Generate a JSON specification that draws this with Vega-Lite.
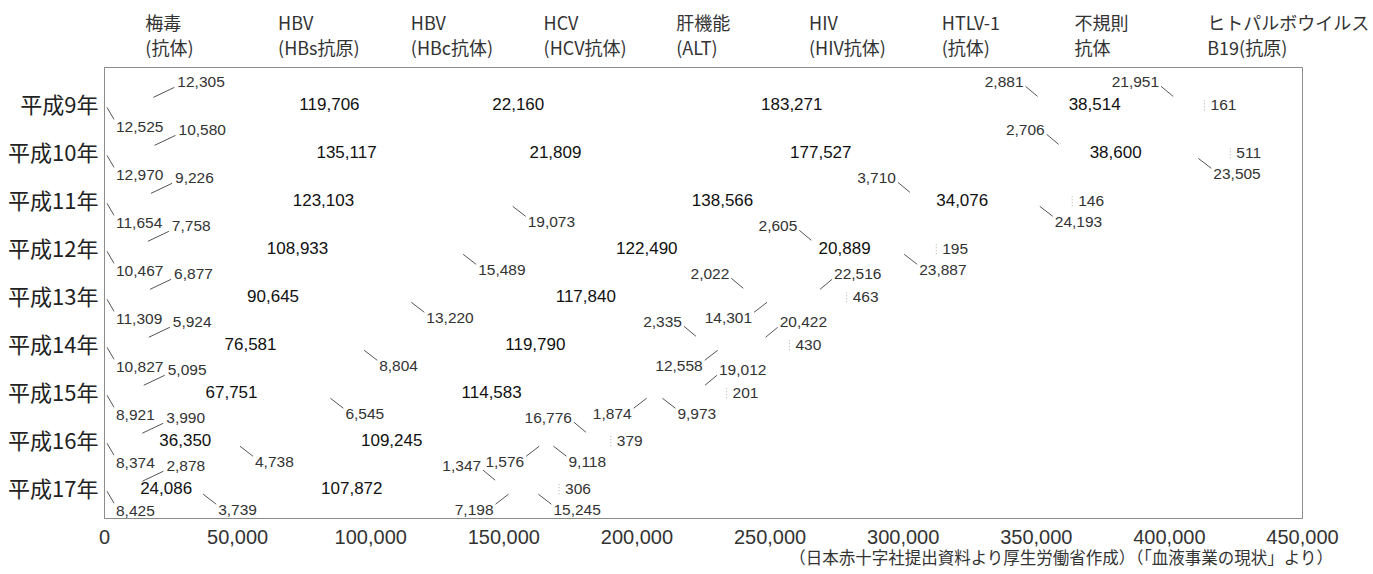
{
  "$schema": "https://vega.github.io/schema/vega-lite/v6.json",
  "autosize": "none",
  "width": 1198,
  "height": 451,
  "padding": {"left": 104, "top": 67, "right": 71, "bottom": 56},
  "background": "white",
  "config": {"view": {"stroke": "#8c8c8c", "strokeWidth": 1}, "font": "Noto Sans CJK JP"},
  "title": {"text": "（日本赤十字社提出資料より厚生労働省作成）（「血液事業の現状」より）", "orient": "bottom", "anchor": "end", "frame": "group", "dx": 31, "offset": 4, "font": "Noto Sans CJK JP", "fontSize": 16.5, "fontWeight": "normal", "color": "#333"},
  "data": {"values": [
    {"year": 9, "cat": "梅毒\n(抗体)", "value": 12525, "pos": "BS"},
    {"year": 9, "cat": "HBV\n(HBs抗原)", "value": 12305, "pos": "AS"},
    {"year": 9, "cat": "HBV\n(HBc抗体)", "value": 119706, "pos": "C"},
    {"year": 9, "cat": "HCV\n(HCV抗体)", "value": 22160, "pos": "C"},
    {"year": 9, "cat": "肝機能\n(ALT)", "value": 183271, "pos": "C"},
    {"year": 9, "cat": "HIV\n(HIV抗体)", "value": 2881, "pos": "AL"},
    {"year": 9, "cat": "HTLV-1\n(抗体)", "value": 38514, "pos": "C"},
    {"year": 9, "cat": "不規則\n抗体", "value": 21951, "pos": "AL"},
    {"year": 9, "cat": "ヒトパルボウイルス\nB19(抗原)", "value": 161, "pos": "R"},
    {"year": 10, "cat": "梅毒\n(抗体)", "value": 12970, "pos": "BS"},
    {"year": 10, "cat": "HBV\n(HBs抗原)", "value": 10580, "pos": "AS"},
    {"year": 10, "cat": "HBV\n(HBc抗体)", "value": 135117, "pos": "C"},
    {"year": 10, "cat": "HCV\n(HCV抗体)", "value": 21809, "pos": "C"},
    {"year": 10, "cat": "肝機能\n(ALT)", "value": 177527, "pos": "C"},
    {"year": 10, "cat": "HIV\n(HIV抗体)", "value": 2706, "pos": "AL"},
    {"year": 10, "cat": "HTLV-1\n(抗体)", "value": 38600, "pos": "C"},
    {"year": 10, "cat": "不規則\n抗体", "value": 23505, "pos": "BR"},
    {"year": 10, "cat": "ヒトパルボウイルス\nB19(抗原)", "value": 511, "pos": "R"},
    {"year": 11, "cat": "梅毒\n(抗体)", "value": 11654, "pos": "BS"},
    {"year": 11, "cat": "HBV\n(HBs抗原)", "value": 9226, "pos": "AS"},
    {"year": 11, "cat": "HBV\n(HBc抗体)", "value": 123103, "pos": "C"},
    {"year": 11, "cat": "HCV\n(HCV抗体)", "value": 19073, "pos": "BR"},
    {"year": 11, "cat": "肝機能\n(ALT)", "value": 138566, "pos": "C"},
    {"year": 11, "cat": "HIV\n(HIV抗体)", "value": 3710, "pos": "AL"},
    {"year": 11, "cat": "HTLV-1\n(抗体)", "value": 34076, "pos": "C"},
    {"year": 11, "cat": "不規則\n抗体", "value": 24193, "pos": "BR"},
    {"year": 11, "cat": "ヒトパルボウイルス\nB19(抗原)", "value": 146, "pos": "R"},
    {"year": 12, "cat": "梅毒\n(抗体)", "value": 10467, "pos": "BS"},
    {"year": 12, "cat": "HBV\n(HBs抗原)", "value": 7758, "pos": "AS"},
    {"year": 12, "cat": "HBV\n(HBc抗体)", "value": 108933, "pos": "C"},
    {"year": 12, "cat": "HCV\n(HCV抗体)", "value": 15489, "pos": "BR"},
    {"year": 12, "cat": "肝機能\n(ALT)", "value": 122490, "pos": "C"},
    {"year": 12, "cat": "HIV\n(HIV抗体)", "value": 2605, "pos": "AL"},
    {"year": 12, "cat": "HTLV-1\n(抗体)", "value": 20889, "pos": "C"},
    {"year": 12, "cat": "不規則\n抗体", "value": 23887, "pos": "BR"},
    {"year": 12, "cat": "ヒトパルボウイルス\nB19(抗原)", "value": 195, "pos": "R"},
    {"year": 13, "cat": "梅毒\n(抗体)", "value": 11309, "pos": "BS"},
    {"year": 13, "cat": "HBV\n(HBs抗原)", "value": 6877, "pos": "AS"},
    {"year": 13, "cat": "HBV\n(HBc抗体)", "value": 90645, "pos": "C"},
    {"year": 13, "cat": "HCV\n(HCV抗体)", "value": 13220, "pos": "BR"},
    {"year": 13, "cat": "肝機能\n(ALT)", "value": 117840, "pos": "C"},
    {"year": 13, "cat": "HIV\n(HIV抗体)", "value": 2022, "pos": "AL"},
    {"year": 13, "cat": "HTLV-1\n(抗体)", "value": 14301, "pos": "BL"},
    {"year": 13, "cat": "不規則\n抗体", "value": 22516, "pos": "AR"},
    {"year": 13, "cat": "ヒトパルボウイルス\nB19(抗原)", "value": 463, "pos": "R"},
    {"year": 14, "cat": "梅毒\n(抗体)", "value": 10827, "pos": "BS"},
    {"year": 14, "cat": "HBV\n(HBs抗原)", "value": 5924, "pos": "AS"},
    {"year": 14, "cat": "HBV\n(HBc抗体)", "value": 76581, "pos": "C"},
    {"year": 14, "cat": "HCV\n(HCV抗体)", "value": 8804, "pos": "BR"},
    {"year": 14, "cat": "肝機能\n(ALT)", "value": 119790, "pos": "C"},
    {"year": 14, "cat": "HIV\n(HIV抗体)", "value": 2335, "pos": "AL"},
    {"year": 14, "cat": "HTLV-1\n(抗体)", "value": 12558, "pos": "BL"},
    {"year": 14, "cat": "不規則\n抗体", "value": 20422, "pos": "AR"},
    {"year": 14, "cat": "ヒトパルボウイルス\nB19(抗原)", "value": 430, "pos": "R"},
    {"year": 15, "cat": "梅毒\n(抗体)", "value": 8921, "pos": "BS"},
    {"year": 15, "cat": "HBV\n(HBs抗原)", "value": 5095, "pos": "AS"},
    {"year": 15, "cat": "HBV\n(HBc抗体)", "value": 67751, "pos": "C"},
    {"year": 15, "cat": "HCV\n(HCV抗体)", "value": 6545, "pos": "BR"},
    {"year": 15, "cat": "肝機能\n(ALT)", "value": 114583, "pos": "C"},
    {"year": 15, "cat": "HIV\n(HIV抗体)", "value": 1874, "pos": "BL"},
    {"year": 15, "cat": "HTLV-1\n(抗体)", "value": 9973, "pos": "BR"},
    {"year": 15, "cat": "不規則\n抗体", "value": 19012, "pos": "AR"},
    {"year": 15, "cat": "ヒトパルボウイルス\nB19(抗原)", "value": 201, "pos": "R"},
    {"year": 16, "cat": "梅毒\n(抗体)", "value": 8374, "pos": "BS"},
    {"year": 16, "cat": "HBV\n(HBs抗原)", "value": 3990, "pos": "AS"},
    {"year": 16, "cat": "HBV\n(HBc抗体)", "value": 36350, "pos": "C"},
    {"year": 16, "cat": "HCV\n(HCV抗体)", "value": 4738, "pos": "BR"},
    {"year": 16, "cat": "肝機能\n(ALT)", "value": 109245, "pos": "C"},
    {"year": 16, "cat": "HIV\n(HIV抗体)", "value": 1576, "pos": "BL"},
    {"year": 16, "cat": "HTLV-1\n(抗体)", "value": 9118, "pos": "BR"},
    {"year": 16, "cat": "不規則\n抗体", "value": 16776, "pos": "AL"},
    {"year": 16, "cat": "ヒトパルボウイルス\nB19(抗原)", "value": 379, "pos": "R"},
    {"year": 17, "cat": "梅毒\n(抗体)", "value": 8425, "pos": "BS"},
    {"year": 17, "cat": "HBV\n(HBs抗原)", "value": 2878, "pos": "AS"},
    {"year": 17, "cat": "HBV\n(HBc抗体)", "value": 24086, "pos": "C"},
    {"year": 17, "cat": "HCV\n(HCV抗体)", "value": 3739, "pos": "BR"},
    {"year": 17, "cat": "肝機能\n(ALT)", "value": 107872, "pos": "C"},
    {"year": 17, "cat": "HIV\n(HIV抗体)", "value": 1347, "pos": "AL"},
    {"year": 17, "cat": "HTLV-1\n(抗体)", "value": 7198, "pos": "BL"},
    {"year": 17, "cat": "不規則\n抗体", "value": 15245, "pos": "BR"},
    {"year": 17, "cat": "ヒトパルボウイルス\nB19(抗原)", "value": 306, "pos": "R"}
  ]},
  "transform": [
    {"stack": "value", "groupby": ["year"], "as": ["v0", "v1"]},
    {"calculate": "(datum.v0 + datum.v1) / 2", "as": "mid"}
  ],
  "resolve": {"scale": {"x": "independent"}, "axis": {"x": "independent"}},
  "layer": [
    {
      "encoding": {
        "x": {"field": "mid", "type": "quantitative", "title": null,
          "scale": {"domain": [0, 450000], "nice": false, "zero": true},
          "axis": {"orient": "bottom", "values": [0, 50000, 100000, 150000, 200000, 250000, 300000, 350000, 400000, 450000], "format": ",d", "grid": false, "ticks": false, "labelFlush": false, "labelFont": "Liberation Sans", "labelFontSize": 20, "labelColor": "#333", "labelPadding": 9, "domainColor": "#8c8c8c", "title": null}},
        "y": {"field": "year", "type": "quantitative", "title": null,
          "scale": {"domain": [8.2, 17.6], "reverse": true, "nice": false, "zero": false},
          "axis": {"values": [9, 10, 11, 12, 13, 14, 15, 16, 17], "labelExpr": "'平成' + datum.value + '年'", "grid": false, "ticks": false, "labelFont": "Noto Sans CJK JP", "labelFontSize": 22, "labelColor": "#222", "labelPadding": 6, "domainColor": "#8c8c8c", "title": null}}
      },
      "layer": [
        {"transform": [{"filter": "datum.pos === 'C'"}],
         "mark": {"type": "text", "align": "center", "baseline": "middle", "font": "Liberation Sans", "fontSize": 17, "fill": "#111"},
         "encoding": {"text": {"field": "value", "type": "quantitative", "format": ","}}},
        {"transform": [{"filter": "datum.pos === 'AR'"}],
         "mark": {"type": "text", "align": "left", "baseline": "middle", "dx": 18, "dy": -23, "font": "Liberation Sans", "fontSize": 15.5, "fill": "#333"},
         "encoding": {"text": {"field": "value", "type": "quantitative", "format": ","}}},
        {"transform": [{"filter": "datum.pos === 'AS'"}],
         "mark": {"type": "text", "align": "left", "baseline": "middle", "dx": 40, "dy": -23, "font": "Liberation Sans", "fontSize": 15.5, "fill": "#333"},
         "encoding": {"x": {"field": "v0", "type": "quantitative"}, "text": {"field": "value", "type": "quantitative", "format": ","}}},
        {"transform": [{"filter": "datum.pos === 'AL'"}],
         "mark": {"type": "text", "align": "right", "baseline": "middle", "dx": -16, "dy": -23, "font": "Liberation Sans", "fontSize": 15.5, "fill": "#333"},
         "encoding": {"text": {"field": "value", "type": "quantitative", "format": ","}}},
        {"transform": [{"filter": "datum.pos === 'BR'"}],
         "mark": {"type": "text", "align": "left", "baseline": "middle", "dx": 15, "dy": 21, "font": "Liberation Sans", "fontSize": 15.5, "fill": "#333"},
         "encoding": {"text": {"field": "value", "type": "quantitative", "format": ","}}},
        {"transform": [{"filter": "datum.pos === 'BL'"}],
         "mark": {"type": "text", "align": "right", "baseline": "middle", "dx": -15, "dy": 21, "font": "Liberation Sans", "fontSize": 15.5, "fill": "#333"},
         "encoding": {"text": {"field": "value", "type": "quantitative", "format": ","}}},
        {"transform": [{"filter": "datum.pos === 'BS'"}],
         "mark": {"type": "text", "align": "left", "baseline": "middle", "dx": 12, "dy": 22, "font": "Liberation Sans", "fontSize": 15.5, "fill": "#333"},
         "encoding": {"x": {"field": "v0", "type": "quantitative"}, "text": {"field": "value", "type": "quantitative", "format": ","}}},
        {"transform": [{"filter": "datum.pos === 'R'"}],
         "mark": {"type": "text", "align": "left", "baseline": "middle", "dx": 6, "font": "Liberation Sans", "fontSize": 15.5, "fill": "#333"},
         "encoding": {"text": {"field": "value", "type": "quantitative", "format": ","}}},
        {"transform": [{"filter": "datum.pos === 'AR'"}],
         "mark": {"type": "rule", "stroke": "#555", "strokeWidth": 1, "xOffset": 4, "x2Offset": 16, "yOffset": -8, "y2Offset": -18},
         "encoding": {"x2": {"field": "mid"}, "y2": {"field": "year"}}},
        {"transform": [{"filter": "datum.pos === 'AS'"}],
         "mark": {"type": "rule", "stroke": "#555", "strokeWidth": 1, "xOffset": 16, "x2Offset": 37, "yOffset": -8, "y2Offset": -18},
         "encoding": {"x": {"field": "v0", "type": "quantitative"}, "x2": {"field": "v0"}, "y2": {"field": "year"}}},
        {"transform": [{"filter": "datum.pos === 'AL'"}],
         "mark": {"type": "rule", "stroke": "#555", "strokeWidth": 1, "xOffset": -2, "x2Offset": -14, "yOffset": -9, "y2Offset": -19},
         "encoding": {"x2": {"field": "mid"}, "y2": {"field": "year"}}},
        {"transform": [{"filter": "datum.pos === 'BR'"}],
         "mark": {"type": "rule", "stroke": "#555", "strokeWidth": 1, "xOffset": 0, "x2Offset": 13, "yOffset": 5, "y2Offset": 15},
         "encoding": {"x2": {"field": "mid"}, "y2": {"field": "year"}}},
        {"transform": [{"filter": "datum.pos === 'BL'"}],
         "mark": {"type": "rule", "stroke": "#555", "strokeWidth": 1, "xOffset": 0, "x2Offset": -13, "yOffset": 5, "y2Offset": 15},
         "encoding": {"x2": {"field": "mid"}, "y2": {"field": "year"}}},
        {"transform": [{"filter": "datum.pos === 'BS'"}],
         "mark": {"type": "rule", "stroke": "#555", "strokeWidth": 1, "xOffset": 3, "x2Offset": 10, "yOffset": 2, "y2Offset": 14},
         "encoding": {"x": {"field": "v0", "type": "quantitative"}, "x2": {"field": "v0"}, "y2": {"field": "year"}}},
        {"transform": [{"filter": "datum.pos === 'R'"}],
         "mark": {"type": "rule", "stroke": "#aaa", "strokeWidth": 1, "strokeDash": [1, 2], "yOffset": -5, "y2Offset": 5},
         "encoding": {"x2": {"field": "mid"}, "y2": {"field": "year"}}}
      ]
    },
    {
      "mark": {"type": "point", "opacity": 0},
      "encoding": {
        "x": {"field": "cat", "type": "nominal", "sort": null, "title": null,
          "scale": {"type": "point", "padding": 0.5125, "align": 0.3},
          "axis": {"orient": "top", "labelExpr": "split(datum.label, '\\n')", "labelAlign": "left", "labelAngle": 0, "labelFont": "Noto Sans CJK JP", "labelFontSize": 18, "labelLineHeight": 25, "labelColor": "#333", "labelPadding": 34, "ticks": false, "domain": false, "labelOverlap": false, "labelBound": false, "labelLimit": 0, "title": null}}
      }
    }
  ]
}
